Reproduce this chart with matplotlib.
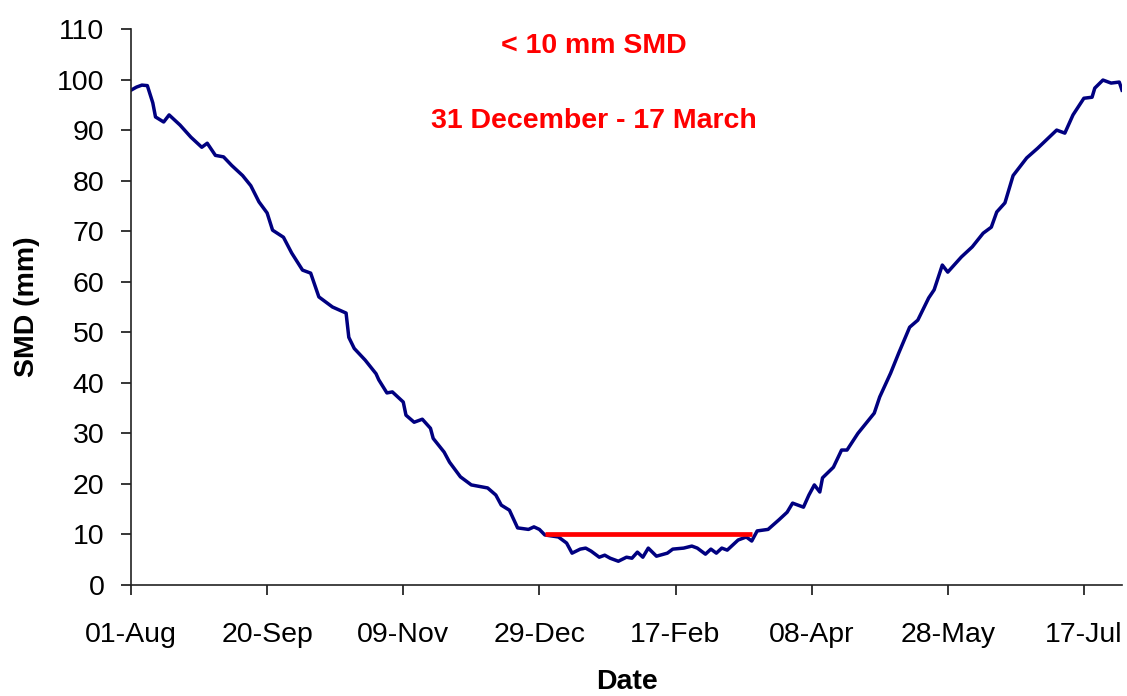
#!/usr/bin/env python3
"""Soil moisture deficit through the year, with the < 10 mm SMD period marked."""

import matplotlib as mpl
mpl.use("Agg")
import matplotlib.pyplot as plt

plt.rcParams["font.family"] = ["Liberation Sans", "DejaVu Sans"]

# days after 01-Aug and the SMD (mm)
days = [0, 2, 4, 6, 8, 9, 12, 14, 18, 22, 26, 28, 31, 34, 37, 41, 44, 47, 50, 52,
        56, 59, 63, 66, 69, 74, 79, 80, 82, 86, 90, 91, 94, 96, 100, 101, 104, 107,
        110, 111, 115, 117, 121, 125, 131, 134, 136, 139, 142, 146, 148, 150, 152,
        157, 160, 162, 165, 167, 169, 172, 174, 176, 179, 182, 184, 186, 188, 190,
        193, 197, 199, 203, 206, 208, 211, 213, 215, 217, 219, 223, 226, 228, 230,
        234, 238, 241, 243, 247, 249, 251, 253, 254, 258, 261, 263, 267, 273, 275,
        279, 282, 286, 289, 293, 295, 298, 300, 305, 309, 313, 316, 318, 321, 324,
        329, 333, 340, 343, 346, 350, 353, 354, 357, 360, 363, 364]
smd = [97.9, 98.5, 98.9, 98.8, 95.4, 92.6, 91.6, 93.0, 91.0, 88.6, 86.6, 87.4, 85.0,
       84.7, 83.0, 81.0, 79.0, 75.8, 73.6, 70.2, 68.8, 65.7, 62.3, 61.7, 57.0, 55.0,
       53.8, 49.0, 46.8, 44.5, 41.8, 40.6, 38.0, 38.2, 36.2, 33.6, 32.2, 32.8, 31.0,
       29.0, 26.3, 24.3, 21.4, 19.8, 19.2, 17.8, 15.8, 14.8, 11.3, 11.0, 11.5, 11.0,
       9.9, 9.5, 8.3, 6.3, 7.1, 7.3, 6.7, 5.5, 5.9, 5.3, 4.7, 5.5, 5.3, 6.5, 5.5,
       7.3, 5.7, 6.3, 7.1, 7.3, 7.7, 7.3, 6.1, 7.1, 6.3, 7.3, 6.9, 8.9, 9.5, 8.7,
       10.7, 11.0, 12.9, 14.4, 16.2, 15.4, 17.8, 19.8, 18.4, 21.2, 23.3, 26.7, 26.7,
       30.0, 34.0, 37.2, 41.9, 45.9, 51.0, 52.4, 56.8, 58.4, 63.3, 61.9, 64.9, 66.9,
       69.6, 70.8, 73.8, 75.6, 81.0, 84.5, 86.4, 90.0, 89.4, 93.0, 96.3, 96.5, 98.3,
       99.9, 99.3, 99.5, 97.9]

# period below 10 mm: 31 December (day 152) to 17 March (day 228)
low_days = [152, 228]
low_level = [10, 10]

tick_days = [0, 50, 100, 150, 200, 250, 300, 350]
tick_labels = ["01-Aug", "20-Sep", "09-Nov", "29-Dec", "17-Feb", "08-Apr", "28-May", "17-Jul"]

W, H = 1127, 696
fig = plt.figure(figsize=(W / 100, H / 100), dpi=100)
ax = fig.add_axes([131 / W, 111 / H, (1122 - 131) / W, (585 - 29) / H])

ax.plot(days, smd, color="#000080", lw=2.5, solid_joinstyle="round")
ax.plot(low_days, low_level, color="#ff0000", lw=3.4, solid_capstyle="butt")

ax.set_xlim(0, 364)
ax.set_ylim(0, 110)
ax.set_yticks(range(0, 111, 10))
ax.set_xticks(tick_days)
ax.set_xticklabels(tick_labels)

for side in ("top", "right"):
    ax.spines[side].set_visible(False)
for side in ("left", "bottom"):
    ax.spines[side].set_linewidth(1.2)
    ax.spines[side].set_color("#222222")

ax.tick_params(axis="y", labelsize=20.5, length=7, width=1.1, pad=12, direction="out")
ax.tick_params(axis="x", labelsize=20.5, length=7, width=1.1, pad=19.5, direction="out")

ax.set_ylabel("SMD (mm)", fontsize=20.5, fontweight="bold", labelpad=12)
ax.set_xlabel("Date", fontsize=20.5, fontweight="bold", labelpad=15)

ax.text(0.4675, 0.97, "< 10 mm SMD", transform=ax.transAxes, ha="center", va="center",
        color="#ff0000", fontsize=20.5, fontweight="bold")
ax.text(0.4675, 0.835, "31 December - 17 March", transform=ax.transAxes, ha="center",
        va="center", color="#ff0000", fontsize=20.5, fontweight="bold")

fig.savefig("out.png", dpi=100)
